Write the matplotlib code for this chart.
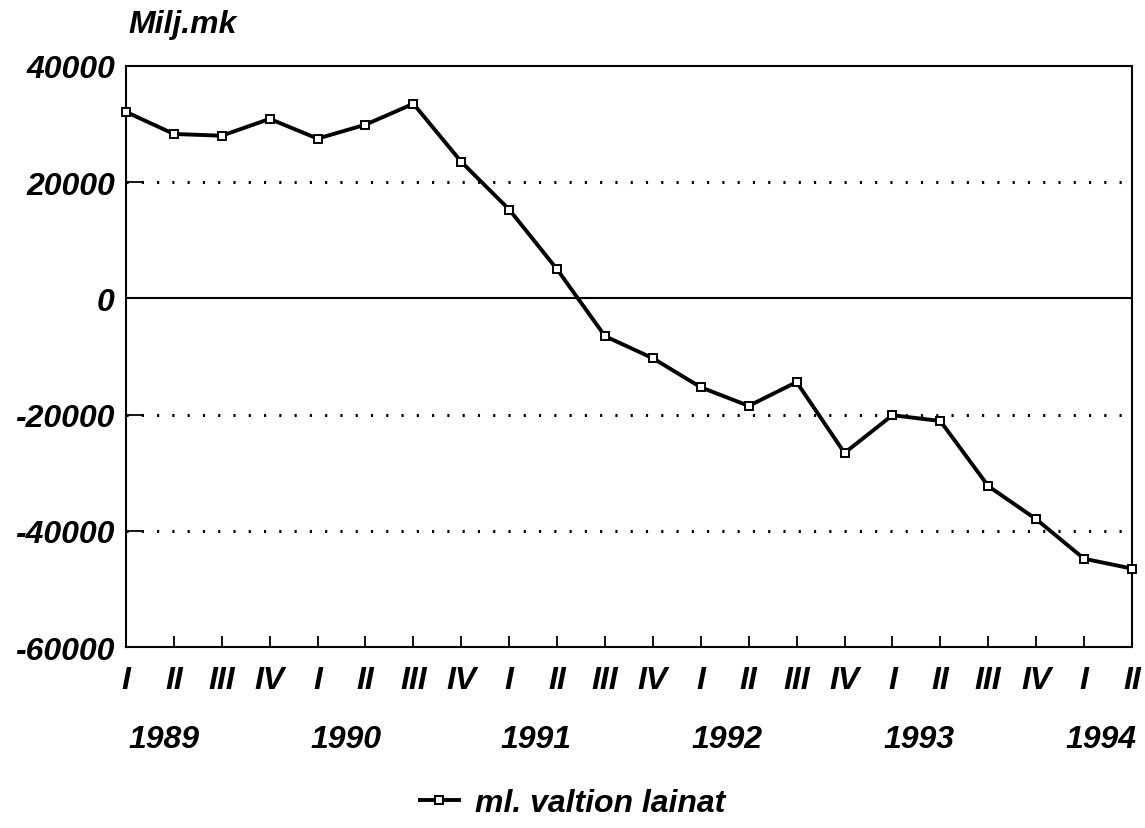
import numpy as np
import matplotlib
matplotlib.use("Agg")
import matplotlib.pyplot as plt
from matplotlib.transforms import blended_transform_factory

plt.rcParams['font.family'] = ['Liberation Sans', 'DejaVu Sans']

# quarterly values, Milj.mk
quarters = ["I", "II", "III", "IV"] * 5 + ["I", "II"]
values = [32100, 28300, 28000, 30900, 27500, 29900, 33500, 23500,
          15300, 5000, -6500, -10300, -15300, -18500, -14400, -26600,
          -20100, -21100, -32300, -38000, -44800, -46500]
years = ["1989", "1990", "1991", "1992", "1993", "1994"]
year_pos = [0.8, 4.6, 8.55, 12.55, 16.55, 20.35]  # label centres, in quarter index units
yticks = [40000, 20000, 0, -20000, -40000, -60000]
series_label = "ml. valtion lainat"

FONT = dict(fontsize=23, fontweight="bold", fontstyle="italic")

fig = plt.figure(figsize=(11.45, 8.29), dpi=100)
ax = fig.add_axes([0.110, 0.2183, 0.8786, 0.7009])

x = np.arange(len(values))
line, = ax.plot(x, values, color="black", lw=2.8, marker="s", ms=5.5,
                mfc="white", mec="black", mew=1.4, label=series_label,
                zorder=3, clip_on=False)

# reference lines
ax.axhline(0, color="black", lw=1.5, zorder=2)
for v in (20000, -20000, -40000):
    ax.axhline(v, color="black", lw=2.2, linestyle=(0, (0.7, 4.3)), zorder=1)

ax.set_xlim(0, len(values) - 1)
ax.set_ylim(-60000, 40000)
ax.set_yticks(yticks)
ax.set_yticklabels([str(v) for v in yticks], **FONT)
ax.set_xticks(x)
ax.set_xticklabels(quarters, **FONT)
ax.tick_params(axis="y", direction="in", length=13, width=1.3, pad=8)
ax.tick_params(axis="x", direction="in", length=8, width=1.3, pad=13)
for s in ax.spines.values():
    s.set_linewidth(1.5)

# year labels under the quarter labels
trans = blended_transform_factory(ax.transData, fig.transFigure)
for yr, px in zip(years, year_pos):
    ax.text(px, 1 - 740 / 829, yr, transform=trans, ha="center", va="center",
            clip_on=False, **FONT)

fig.text(0.112, 1 - 25 / 829, "Milj.mk", ha="left", va="center", **FONT)

leg = fig.legend(handles=[line], loc="center", bbox_to_anchor=(0.5, 1 - 804 / 829),
                 frameon=False, handlelength=1.2, handletextpad=0.5,
                 prop=dict(size=23, weight="bold", style="italic"))

fig.savefig("out.png", dpi=100)
